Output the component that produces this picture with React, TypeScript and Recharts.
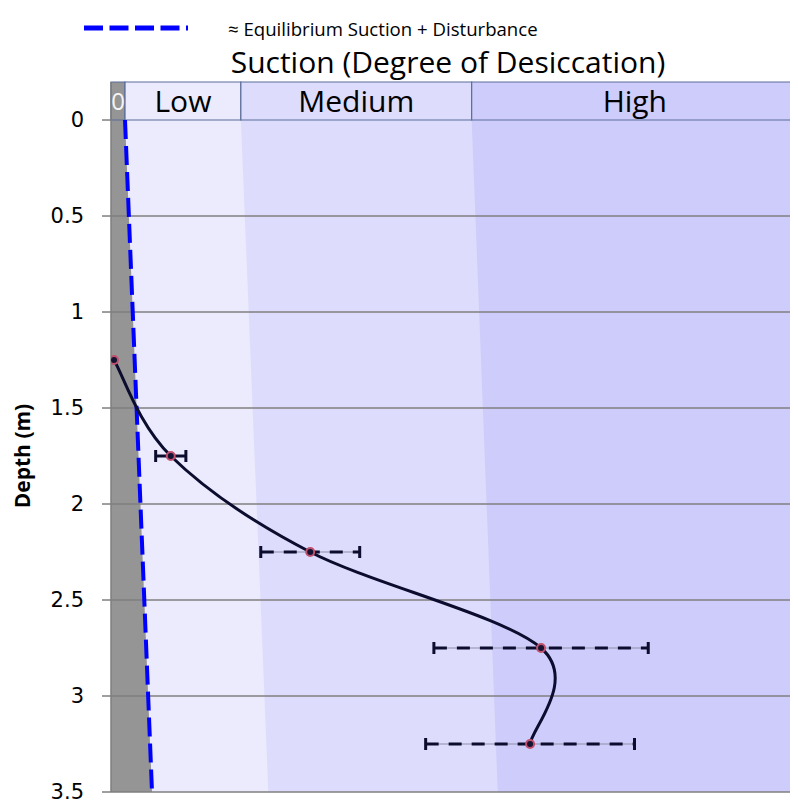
import React from 'react';
import {
  ComposedChart,
  Line,
  Area,
  XAxis,
  YAxis,
  ReferenceArea,
  ReferenceLine,
  ErrorBar,
} from 'recharts';

// Measured profile (depth in m, suction on a 0-100 relative scale)
const depths = [1.25, 1.75, 2.25, 2.75, 3.25];
const suction = [0.44, 8.7, 29.0, 62.6, 61.0];
const errSolid = [null, 2.2, null, null, null];
const errDashed = [null, null, 7.2, 15.6, 15.2];

// Zone boundaries at the top and bottom of the profile
const bandDepths = [0, 3.5];
const equilibrium = [2.04, 5.97];
const lowEdge = [18.9, 22.9];
const mediumEdge = [52.5, 56.3];
const highEdge = [100, 100];

const depthTicks = [0, 0.5, 1, 1.5, 2, 2.5, 3, 3.5];
const headerTop = -0.198;
const headerLabels = ['0', 'Low', 'Medium', 'High'];
const headerStarts = [0, 2.04, 18.9, 52.5];
const headerEnds = [2.04, 18.9, 52.5, 100];

const profileData = depths.map((d, i) => ({
  depth: d,
  suction: suction[i],
  errSolid: errSolid[i],
  errDashed: errDashed[i],
}));
const bandData = bandDepths.map((d, i) => ({
  depth: d,
  eq: equilibrium[i],
  low: lowEdge[i],
  medium: mediumEdge[i],
  high: highEdge[i],
}));

const zoneFills = ['#959595', '#ebebfd', '#dddcfc', '#cdccfb'];
const headerFont = '"Open Sans", sans-serif';

// Spreadsheet-style smoothed line (cardinal Bezier through the points)
function smoothCurve(context: any) {
  let pts: number[][] = [];
  return {
    areaStart() {},
    areaEnd() {},
    lineStart() {
      pts = [];
    },
    lineEnd() {
      if (!pts.length) return;
      context.moveTo(pts[0][0], pts[0][1]);
      for (let i = 0; i < pts.length - 1; i++) {
        const p0 = pts[Math.max(i - 1, 0)];
        const p1 = pts[i];
        const p2 = pts[i + 1];
        const p3 = pts[Math.min(i + 2, pts.length - 1)];
        context.bezierCurveTo(
          p1[0] + (p2[0] - p0[0]) / 6,
          p1[1] + (p2[1] - p0[1]) / 6,
          p2[0] - (p3[0] - p1[0]) / 6,
          p2[1] - (p3[1] - p1[1]) / 6,
          p2[0],
          p2[1],
        );
      }
    },
    point(x: number, y: number) {
      pts.push([+x, +y]);
    },
  };
}

export default function App() {
  return (
    <div style={{ position: 'relative', width: 790, height: 792 }}>
      <div
        style={{
          position: 'absolute',
          left: 76,
          top: 6,
          display: 'flex',
          alignItems: 'center',
          fontFamily: headerFont,
          fontSize: 18.6,
          color: '#000',
          whiteSpace: 'nowrap',
        }}
      >
        <svg width={105} height={28}>
          <line x1={0} y1={14} x2={104} y2={14} stroke="#0000ff" strokeWidth={5} strokeDasharray="19 6.5" />
        </svg>
        <span style={{ marginLeft: 39 }}>≈ Equilibrium Suction + Disturbance</span>
      </div>
      <div
        style={{
          position: 'absolute',
          left: 440 - 300,
          width: 600,
          top: 33,
          textAlign: 'center',
          fontFamily: headerFont,
          fontSize: 30,
          lineHeight: '42px',
          color: '#000',
        }}
      >
        Suction (Degree of Desiccation)
      </div>
      <ComposedChart
        width={790}
        height={792}
        layout="vertical"
        margin={{ top: 74, right: 0, bottom: 8, left: 0 }}
      >
        <XAxis type="number" dataKey="suction" domain={[0, 100]} hide allowDataOverflow />
        <YAxis
          type="number"
          dataKey="depth"
          domain={[headerTop, 3.5]}
          ticks={depthTicks}
          interval={0}
          allowDataOverflow
          width={103}
          tickSize={9}
          tickMargin={18}
          tickLine={{ stroke: '#7f7f7f', strokeWidth: 1.5 }}
          axisLine={{ stroke: '#7f7f7f', strokeWidth: 1.5 }}
          tick={{ fontSize: 21, fontFamily: '"DejaVu Sans", sans-serif', fill: '#000' }}
          label={{
            content: () => (
              <text
                x={14}
                y={448}
                transform="rotate(-90 14 448)"
                textAnchor="middle"
                dominantBaseline="central"
                fontFamily='"Open Sans", sans-serif'
                fontWeight="bold"
                fontSize={21}
                fill="#000"
              >
                Depth (m)
              </text>
            ),
          }}
        />
        <Area data={bandData} dataKey="high" type="linear" baseValue={0} fill={zoneFills[3]} fillOpacity={1} stroke="none" isAnimationActive={false} />
        <Area data={bandData} dataKey="medium" type="linear" baseValue={0} fill={zoneFills[2]} fillOpacity={1} stroke="none" isAnimationActive={false} />
        <Area data={bandData} dataKey="low" type="linear" baseValue={0} fill={zoneFills[1]} fillOpacity={1} stroke="none" isAnimationActive={false} />
        <Area data={bandData} dataKey="eq" type="linear" baseValue={0} fill={zoneFills[0]} fillOpacity={1} stroke="none" isAnimationActive={false} />
        {depthTicks.slice(1).map((t) => (
          <ReferenceLine key={t} y={t} stroke="#7f7f7f" strokeWidth={1.5} />
        ))}
        {headerLabels.map((lab, i) => (
          <ReferenceArea
            key={lab}
            y1={headerTop}
            y2={0}
            x1={headerStarts[i]}
            x2={headerEnds[i]}
            fill={zoneFills[i]}
            fillOpacity={1}
            stroke="#5b6d9a"
            strokeWidth={1.2}
            ifOverflow="visible"
            label={{
              value: lab,
              position: 'center',
              fontFamily: headerFont,
              fontSize: i === 0 ? 24 : 30,
              fill: i === 0 ? '#f4f4f4' : '#000000',
            }}
          />
        ))}
        <Line
          data={bandData}
          dataKey="eq"
          type="linear"
          stroke="#0000ff"
          strokeWidth={4}
          strokeDasharray="19 7"
          dot={false}
          activeDot={false}
          isAnimationActive={false}
        />
        <Line
          data={profileData}
          dataKey="suction"
          type={smoothCurve as any}
          stroke="#0c0c2e"
          strokeWidth={3}
          dot={{ r: 4, fill: '#141432', stroke: '#c0506e', strokeWidth: 2 }}
          activeDot={false}
          isAnimationActive={false}
        >
          <ErrorBar dataKey="errDashed" direction="x" width={6} stroke="#9090a8" strokeWidth={1.2} />
          <ErrorBar dataKey="errDashed" direction="x" width={6} stroke="#0c0c2e" strokeWidth={3} strokeDasharray="13 10" />
          <ErrorBar dataKey="errSolid" direction="x" width={6} stroke="#0c0c2e" strokeWidth={3} />
        </Line>
      </ComposedChart>
    </div>
  );
}
